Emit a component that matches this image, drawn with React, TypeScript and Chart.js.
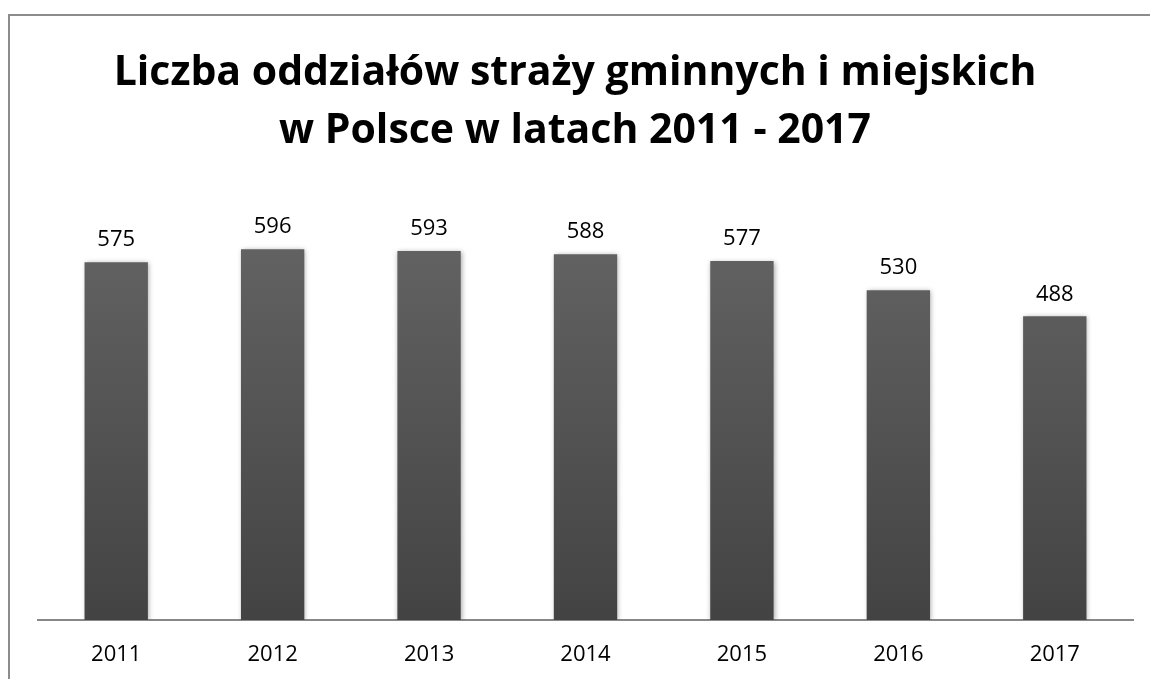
import React, { useEffect, useRef } from "react";
import { Chart, registerables } from "chart.js";

Chart.register(...registerables);

const categories = ["2011", "2012", "2013", "2014", "2015", "2016", "2017"];
const values = [575, 596, 593, 588, 577, 530, 488];
const titleLines = ["Liczba oddziałów straży gminnych i miejskich", "w Polsce w latach 2011 - 2017"];

const FONT = "'Open Sans', 'Noto Sans', sans-serif";

const frame = {
  id: "frame",
  beforeDraw(chart: any) {
    const ctx = chart.ctx;
    ctx.save();
    ctx.fillStyle = "#fff";
    ctx.fillRect(0, 0, chart.width, chart.height);
    ctx.strokeStyle = "#8c8c8c";
    ctx.lineWidth = 2;
    ctx.beginPath();
    ctx.moveTo(9, chart.height + 5);
    ctx.lineTo(9, 15);
    ctx.lineTo(chart.width + 5, 15);
    ctx.stroke();
    ctx.restore();
  },
};

const valueLabels = {
  id: "valueLabels",
  afterDatasetsDraw(chart: any) {
    const ctx = chart.ctx;
    const meta = chart.getDatasetMeta(0);
    ctx.save();
    ctx.font = `22px ${FONT}`;
    ctx.fillStyle = "#000";
    ctx.textAlign = "center";
    ctx.textBaseline = "middle";
    meta.data.forEach((el: any, i: number) => {
      ctx.fillText(String(values[i]), el.x, el.y - 22);
    });
    ctx.restore();
  },
};

const barShadow = {
  id: "barShadow",
  beforeDatasetsDraw(chart: any) {
    const ctx = chart.ctx;
    ctx.save();
    ctx.shadowColor = "rgba(0,0,0,0.35)";
    ctx.shadowBlur = 5;
    ctx.shadowOffsetX = 1;
    ctx.shadowOffsetY = 1;
  },
  afterDatasetsDraw(chart: any) {
    chart.ctx.restore();
  },
};

export default function App() {
  const ref = useRef<HTMLCanvasElement>(null);
  useEffect(() => {
    document.documentElement.style.overflow = "hidden";
    document.body.style.overflow = "hidden";
    document.body.style.margin = "0";
    const chart = new Chart(ref.current!, {
      type: "bar",
      data: {
        labels: categories,
        datasets: [
          {
            data: values,
            backgroundColor: (c: any) => {
              const area = c.chart.chartArea;
              if (!area) return "#555";
              const g = c.chart.ctx.createLinearGradient(0, area.top, 0, area.bottom);
              g.addColorStop(0, "#676767");
              g.addColorStop(1, "#434343");
              return g;
            },
            borderWidth: 0,
            categoryPercentage: 1,
            barPercentage: 0.405,
          },
        ],
      },
      options: {
        animation: false,
        responsive: false,
        maintainAspectRatio: false,
        layout: { padding: { left: 17, right: 17, top: 0, bottom: 0 } },
        plugins: {
          legend: { display: false },
          tooltip: { enabled: false },
          title: {
            display: true,
            text: titleLines,
            color: "#000",
            font: { family: FONT, size: 41, weight: "bold", lineHeight: 1.42 },
            padding: { top: 44, bottom: 24 },
          },
        },
        scales: {
          x: {
            grid: { display: false, drawTicks: false },
            border: { display: true, color: "#888888", width: 2 },
            ticks: { color: "#000", font: { family: FONT, size: 22 }, padding: 22 },
            afterFit: (scale: any) => {
              scale.height = 59;
            },
          },
          y: {
            display: true,
            min: 0,
            max: 700,
            grid: { display: false, drawTicks: false },
            border: { display: false },
            ticks: { display: false },
            afterFit: (scale: any) => {
              scale.width = 21;
            },
          },
        },
      },
      plugins: [frame, barShadow, valueLabels],
    });
    return () => chart.destroy();
  }, []);
  return (
    <div style={{ position: "absolute", left: 0, top: 0, width: 1150, height: 679, background: "#fff", overflow: "hidden" }}>
      <canvas ref={ref} width={1150} height={679} style={{ display: "block", width: 1150, height: 679 }} />
    </div>
  );
}
